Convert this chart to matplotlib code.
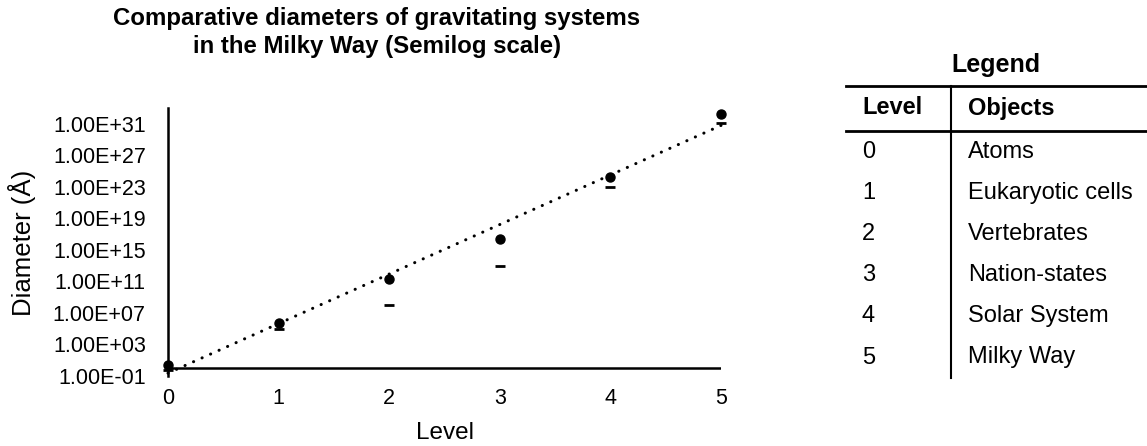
import numpy as np
import matplotlib
matplotlib.use('Agg')
import matplotlib.pyplot as plt

plt.rcParams['font.family'] = ['Liberation Sans', 'DejaVu Sans']

# data (diameters in angstrom)
levels = [0, 1, 2, 3, 4, 5]
diam_max = [2.5, 6e5, 2e11, 2.6e16, 2e24, 1.8e32]
diam_min = [0.5, 1e5, 1e8, 1e13, 1e23, 1.4e31]
ytick_vals = [1e-1, 1e3, 1e7, 1e11, 1e15, 1e19, 1e23, 1e27, 1e31]
ytick_labels = ['1.00E-01', '1.00E+03', '1.00E+07', '1.00E+11', '1.00E+15',
                '1.00E+19', '1.00E+23', '1.00E+27', '1.00E+31']
legend_levels = ['0', '1', '2', '3', '4', '5']
legend_objects = ['Atoms', 'Eukaryotic cells', 'Vertebrates', 'Nation-states',
                  'Solar System', 'Milky Way']

W, H = 1147, 446
fig = plt.figure(figsize=(W / 100, H / 100), dpi=100)
ax = fig.add_axes([168 / W, 1 - 376 / H, (721 - 168) / W, (376 - 108) / H])

ax.set_yscale('log')
ax.set_xlim(0, 5)
ax.set_ylim(1e-1, 1e33)

# exponential trendline fitted on the max series
coef = np.polyfit(levels, np.log10(diam_max), 1)
xs = np.linspace(0, 5, 50)
ax.plot(xs, 10 ** np.polyval(coef, xs), color='black', lw=2.2,
        linestyle=(0, (0.05, 3.0)), dash_capstyle='round', clip_on=False, zorder=2)

ax.plot(levels, diam_max, 'o', color='black', markersize=6.5, clip_on=False, zorder=3)
ax.plot(levels, diam_min, '_', color='black', markersize=7, mew=2, clip_on=False, zorder=3)

# horizontal axis crosses at 1 like Excel
ax.axhline(1, color='black', lw=1.8, zorder=1)
for s in ['top', 'right', 'bottom']:
    ax.spines[s].set_visible(False)
ax.spines['left'].set_linewidth(1.8)

ax.set_yticks(ytick_vals)
ax.set_yticklabels(ytick_labels)
ax.minorticks_off()
ax.set_xticks(levels)
ax.tick_params(axis='both', length=0, labelsize=15.5)
ax.tick_params(axis='y', pad=16)
ax.tick_params(axis='x', pad=9)

fig.text(22 / W, 1 - 243 / H, 'Diameter (Å)', rotation=90, fontsize=18.5,
         ha='center', va='center')
fig.text(445 / W, 1 - 433 / H, 'Level', fontsize=17.5, ha='center', va='center')

fig.text(377 / W, 1 - 19 / H, 'Comparative diameters of gravitating systems',
         fontsize=17.3, fontweight='bold', ha='center', va='center')
fig.text(377 / W, 1 - 47 / H, 'in the Milky Way (Semilog scale)',
         fontsize=17.3, fontweight='bold', ha='center', va='center')

# legend table drawn at the right
fig.text(996 / W, 1 - 65 / H, 'Legend', fontsize=18, fontweight='bold',
         ha='center', va='center')
fig.add_artist(plt.Line2D([846 / W, 1], [1 - 86 / H] * 2, color='black', lw=2))
fig.add_artist(plt.Line2D([846 / W, 1], [1 - 131 / H] * 2, color='black', lw=2))
fig.add_artist(plt.Line2D([951 / W] * 2, [1 - 86 / H, 1 - 378 / H], color='black', lw=1.5))
fig.text(862 / W, 1 - 108 / H, 'Level', fontsize=17, fontweight='bold', va='center')
fig.text(968 / W, 1 - 108 / H, 'Objects', fontsize=17, fontweight='bold', va='center')
for i, (lv, ob) in enumerate(zip(legend_levels, legend_objects)):
    y = 1 - (152 + 41.1 * i) / H
    fig.text(862 / W, y, lv, fontsize=17, va='center')
    fig.text(968 / W, y, ob, fontsize=17, va='center')

fig.savefig('out.png', dpi=100)
